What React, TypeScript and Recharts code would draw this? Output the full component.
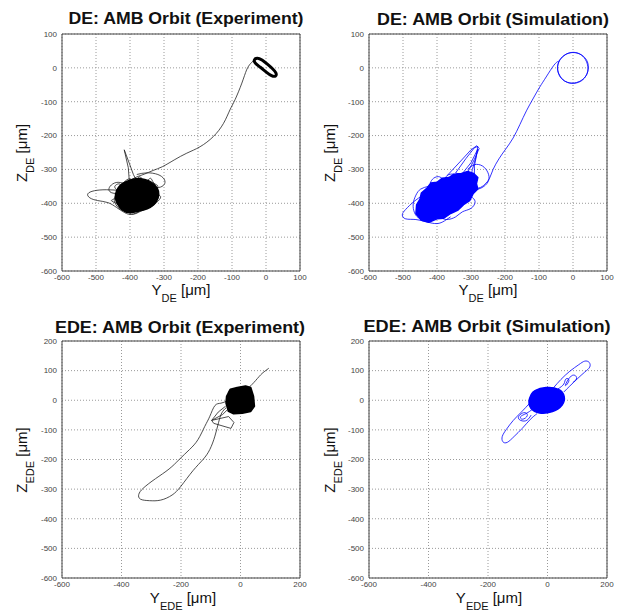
import React from 'react';
import { ScatterChart, Scatter, XAxis, YAxis, CartesianGrid, ReferenceArea } from 'recharts';

type Pt = [number, number];

// ---------- ticks ----------
const deTicks = [-600, -500, -400, -300, -200, -100, 0, 100];
const edeTicksX = [-600, -400, -200, 0, 200];
const edeTicksY = [-600, -500, -400, -300, -200, -100, 0, 100, 200];

// ---------- DE experiment ----------
const deExpRing: Pt[] = [[-36, 24], [-26, 31], [-12, 24], [4, 11], [20, -3], [31, -15], [30, -26], [17, -25], [0, -12], [-18, 3], [-34, 15]];
const deExpPath: Pt[] = [[-38, 20], [-46, 12], [-57, -6], [-71, -45], [-91, -94], [-106, -124], [-125, -164], [-155, -203], [-194, -233], [-233, -252], [-270, -272], [-305, -292], [-332, -303], [-358, -314], [-380, -322], [-395, -330]];
const deExpLoopRight: Pt[] = [[-380, -315], [-350, -310], [-318, -315], [-300, -328], [-298, -342], [-310, -352], [-332, -353], [-355, -345]];
const deExpSpike: Pt[] = [[-402, -335], [-405, -295], [-417, -242], [-402, -282], [-390, -315], [-380, -335]];
const deExpLoopLeft: Pt[] = [[-430, -362], [-470, -360], [-505, -363], [-524, -372], [-518, -384], [-495, -392], [-465, -398], [-440, -412], [-415, -428], [-395, -433], [-375, -425]];
const deExpLoopUL: Pt[] = [[-410, -345], [-435, -338], [-455, -346], [-462, -360], [-450, -370], [-430, -368], [-445, -352], [-428, -345], [-440, -380], [-455, -392], [-440, -400]];
const deExpScribble: Pt[] = [[-420, -340], [-400, -328], [-385, -338], [-372, -322], [-355, -335], [-340, -326], [-330, -340], [-318, -350], [-325, -368], [-310, -380], [-322, -398], [-338, -410], [-362, -420], [-390, -432], [-412, -424], [-432, -415], [-446, -392], [-438, -370]];
const deExpBlob: Pt[] = [[-445, -382], [-440, -362], [-430, -346], [-412, -336], [-392, -328], [-368, -326], [-345, -332], [-326, -345], [-314, -364], [-316, -386], [-328, -404], [-348, -417], [-376, -424], [-403, -430], [-424, -421], [-438, -402]];

// ---------- DE simulation ----------
const deSimCircle: Pt[] = [[47, 2], [42, 23], [27, 39], [4, 47], [-19, 43], [-37, 29], [-47, 8], [-45, -15], [-35, -33], [-16, -45], [6, -47], [27, -39], [41, -22]];
const deSimCircle2: Pt[] = [[45, -2], [41, 20], [25, 41], [2, 48], [-21, 42], [-39, 26], [-47, 4], [-43, -18], [-31, -36], [-12, -46], [10, -45], [31, -35], [43, -17]];
const deSimPath: Pt[] = [[-42, 20], [-56, 8], [-79, -27], [-98, -57], [-118, -92], [-137, -127], [-156, -167], [-176, -207], [-198, -240], [-218, -269], [-235, -300], [-245, -325], [-258, -343], [-278, -355], [-300, -350], [-312, -335]];
const deSimLoop: Pt[] = [[-310, -300], [-290, -286], [-266, -290], [-250, -310], [-248, -332], [-262, -350], [-285, -358], [-305, -345]];
const deSimFan: Pt[] = [[-370, -318], [-330, -275], [-300, -242], [-283, -230], [-276, -238], [-290, -270], [-305, -300], [-318, -320], [-345, -310], [-315, -268], [-290, -236], [-280, -232], [-285, -262], [-296, -300], [-300, -320], [-330, -318], [-300, -280], [-280, -240], [-290, -290], [-290, -325]];
const deSimBlob: Pt[] = [[-462, -430], [-460, -405], [-450, -388], [-446, -370], [-430, -356], [-418, -340], [-400, -338], [-385, -326], [-365, -324], [-350, -314], [-328, -312], [-310, -306], [-292, -312], [-280, -324], [-284, -342], [-280, -358], [-294, -372], [-304, -392], [-322, -404], [-338, -420], [-360, -430], [-380, -444], [-400, -446], [-424, -456], [-446, -450]];
const deSimLoopsA: Pt[] = [[-440, -375], [-468, -395], [-492, -418], [-502, -434], [-492, -446], [-462, -448], [-430, -455], [-400, -460], [-378, -452], [-360, -440]];
const deSimLoopsB: Pt[] = [[-425, -350], [-448, -358], [-462, -376], [-470, -402], [-466, -428], [-450, -445], [-420, -447]];
const deSimLoopsC: Pt[] = [[-420, -340], [-410, -326], [-392, -322], [-380, -330], [-370, -318], [-352, -314], [-340, -320]];
const deSimLoopsD: Pt[] = [[-300, -380], [-288, -395], [-300, -415], [-325, -425], [-345, -440], [-372, -448], [-390, -440]];

// ---------- EDE experiment ----------
const edeExpBlob: Pt[] = [[-40, 25], [-34, 36], [-11, 42], [17, 47], [34, 42], [43, 13], [46, -20], [34, -37], [6, -43], [-23, -45], [-40, -37], [-48, -9], [-46, 13]];
const edeExpTail: Pt[] = [[25, 40], [45, 60], [68, 86], [82, 98], [95, 108]];
const edeExpTeardrop: Pt[] = [[-45, -2], [-66, -10], [-86, -18], [-103, -54], [-120, -88], [-143, -133], [-171, -166], [-206, -200], [-240, -232], [-286, -265], [-326, -296], [-342, -318], [-336, -334], [-306, -339], [-268, -337], [-230, -320], [-200, -290], [-160, -238], [-126, -200], [-103, -166], [-86, -121], [-74, -76], [-63, -43], [-48, -25]];
const edeExpBox: Pt[] = [[-42, -30], [-60, -48], [-97, -68], [-40, -55], [-22, -75], [-32, -95], [-90, -78], [-97, -68], [-75, -40], [-50, -20]];

// ---------- EDE simulation ----------
const edeSimBlob: Pt[] = [[-48, 32], [-6, 46], [42, 40], [60, 14], [54, -17], [19, -41], [-30, -47], [-60, -28], [-65, -3], [-54, 21]];
const edeSimLoopUR: Pt[] = [[20, 42], [45, 70], [75, 98], [105, 120], [125, 132], [140, 128], [142, 112], [125, 95], [100, 72], [75, 48], [55, 28]];
const edeSimLoopUR2: Pt[] = [[35, 38], [55, 55], [62, 72], [72, 66], [60, 50], [80, 82], [98, 76], [85, 60]];
const edeSimLoopLL: Pt[] = [[-60, -10], [-88, -40], [-115, -68], [-138, -98], [-152, -122], [-150, -140], [-135, -142], [-112, -122], [-85, -95], [-58, -65], [-35, -45]];
const edeSimLoopLL2: Pt[] = [[-50, -30], [-72, -45], [-90, -55], [-84, -64], [-68, -52], [-80, -42], [-98, -60], [-75, -70], [-55, -50]];

type Series = { pts: Pt[]; color: string; w: number; fill?: string; curve: any };

const BLK = '#222';
const BLU = '#0000ff';

const panels: {
  left: number; top: number; yW: number; mR: number;
  xDom: [number, number]; xT: number[]; yDom: [number, number]; yT: number[];
  series: Series[];
}[] = [
  {
    left: 0, top: 0, yW: 62, mR: 14, xDom: [-600, 100], xT: deTicks, yDom: [-600, 100], yT: deTicks,
    series: [
      { pts: deExpPath, color: BLK, w: 0.8, curve: 'natural' },
      { pts: deExpLoopRight, color: BLK, w: 0.8, curve: 'natural' },
      { pts: deExpSpike, color: BLK, w: 0.8, curve: 'linear' },
      { pts: deExpLoopLeft, color: BLK, w: 0.8, curve: 'natural' },
      { pts: deExpLoopUL, color: BLK, w: 0.8, curve: 'natural' },
      { pts: deExpScribble, color: BLK, w: 0.8, curve: 'natural' },
      { pts: deExpBlob, color: '#000', w: 1.5, fill: '#000', curve: 'basisClosed' },
      { pts: deExpRing, color: '#000', w: 3, curve: 'basisClosed' },
    ],
  },
  {
    left: 314, top: 0, yW: 55, mR: 21, xDom: [-600, 100], xT: deTicks, yDom: [-600, 100], yT: deTicks,
    series: [
      { pts: deSimCircle, color: BLU, w: 0.8, curve: 'basisClosed' },
      { pts: deSimCircle2, color: BLU, w: 0.8, curve: 'basisClosed' },
      { pts: deSimPath, color: BLU, w: 0.8, curve: 'natural' },
      { pts: deSimLoop, color: BLU, w: 0.8, curve: 'natural' },
      { pts: deSimFan, color: BLU, w: 0.8, curve: 'linear' },
      { pts: deSimLoopsA, color: BLU, w: 0.8, curve: 'natural' },
      { pts: deSimLoopsB, color: BLU, w: 0.8, curve: 'natural' },
      { pts: deSimLoopsC, color: BLU, w: 0.8, curve: 'natural' },
      { pts: deSimLoopsD, color: BLU, w: 0.8, curve: 'natural' },
      { pts: deSimBlob, color: BLU, w: 1.5, fill: BLU, curve: 'linearClosed' },
    ],
  },
  {
    left: 0, top: 307, yW: 62, mR: 14, xDom: [-600, 200], xT: edeTicksX, yDom: [-600, 200], yT: edeTicksY,
    series: [
      { pts: edeExpTail, color: BLK, w: 0.8, curve: 'natural' },
      { pts: edeExpTeardrop, color: BLK, w: 0.8, curve: 'natural' },
      { pts: edeExpBox, color: BLK, w: 0.8, curve: 'linear' },
      { pts: edeExpBlob, color: '#000', w: 2, fill: '#000', curve: 'linearClosed' },
    ],
  },
  {
    left: 314, top: 307, yW: 55, mR: 21, xDom: [-600, 200], xT: edeTicksX, yDom: [-600, 200], yT: edeTicksY,
    series: [
      { pts: edeSimLoopUR, color: BLU, w: 0.8, curve: 'natural' },
      { pts: edeSimLoopUR2, color: BLU, w: 0.8, curve: 'natural' },
      { pts: edeSimLoopLL, color: BLU, w: 0.8, curve: 'natural' },
      { pts: edeSimLoopLL2, color: BLU, w: 0.8, curve: 'natural' },
      { pts: edeSimBlob, color: BLU, w: 1.5, fill: BLU, curve: 'basisClosed' },
    ],
  },
];

const FONT = '"Liberation Sans", Arial, sans-serif';
const tickStyle = { fontSize: 8, fill: '#444', fontFamily: FONT };
const noShape = () => <g />;

function Panel(p: typeof panels[number]) {
  return (
    <div style={{ position: 'absolute', left: p.left, top: p.top, width: 314, height: 307 }}>
      <ScatterChart width={314} height={307} margin={{ top: 34, right: p.mR, bottom: 0, left: 0 }}>
        <CartesianGrid stroke="#9a9a9a" strokeDasharray="1 2" />
        <XAxis dataKey="x" type="number" domain={p.xDom} ticks={p.xT} height={36}
          axisLine={false} tickLine={false} tickSize={0} tickMargin={3} tick={tickStyle} interval={0} />
        <YAxis dataKey="y" type="number" domain={p.yDom} ticks={p.yT} width={p.yW}
          axisLine={false} tickLine={false} tickSize={0} tickMargin={5} tick={tickStyle} interval={0} />
        {p.series.map((s, i) => (
          <Scatter key={i} data={s.pts.map(([x, y]) => ({ x, y }))} isAnimationActive={false}
            fill={s.color} shape={noShape} lineJointType={s.curve}
            line={{ stroke: s.color, strokeWidth: s.w, fill: s.fill ?? 'none', strokeLinejoin: 'round' }} />
        ))}
        <ReferenceArea x1={p.xDom[0]} x2={p.xDom[1]} y1={p.yDom[0]} y2={p.yDom[1]}
          fill="none" fillOpacity={0} stroke="#444" strokeWidth={1} ifOverflow="visible" />
      </ScatterChart>
    </div>
  );
}

function AxLabel({ x, y, main, sub, rot }: { x: number; y: number; main: string; sub: string; rot?: boolean }) {
  return (
    <text transform={`translate(${x},${y})${rot ? ' rotate(-90)' : ''}`} textAnchor="middle"
      fontFamily={FONT} fontSize={15} fill="#111">
      {main}
      <tspan fontSize={11} dy={7}>{sub}</tspan>
      <tspan dy={-7}> [μm]</tspan>
    </text>
  );
}

function Title({ x, y, text, len }: { x: number; y: number; text: string; len: number }) {
  return (
    <text x={x} y={y} textAnchor="middle" fontFamily={FONT} fontWeight="bold" fontSize={16}
      fill="#111" textLength={len} lengthAdjust="spacingAndGlyphs">{text}</text>
  );
}

export default function App() {
  return (
    <div style={{ position: 'absolute', left: 0, top: 0, width: 628, height: 614, background: '#fff' }}>
      {panels.map((p, i) => <Panel key={i} {...p} />)}
      <svg width={628} height={614} style={{ position: 'absolute', left: 0, top: 0, pointerEvents: 'none' }}>
        <Title x={186} y={24} text="DE: AMB Orbit (Experiment)" len={235} />
        <Title x={493} y={25} text="DE: AMB Orbit (Simulation)" len={232} />
        <Title x={180} y={333} text="EDE: AMB Orbit (Experiment)" len={250} />
        <Title x={487} y={332} text="EDE: AMB Orbit (Simulation)" len={247} />
        <AxLabel x={181} y={295} main="Y" sub="DE" />
        <AxLabel x={488} y={295} main="Y" sub="DE" />
        <AxLabel x={183} y={603} main="Y" sub="EDE" />
        <AxLabel x={489} y={603} main="Y" sub="EDE" />
        <AxLabel x={27} y={153} main="Z" sub="DE" rot />
        <AxLabel x={335} y={153} main="Z" sub="DE" rot />
        <AxLabel x={27} y={460} main="Z" sub="EDE" rot />
        <AxLabel x={335} y={460} main="Z" sub="EDE" rot />
      </svg>
    </div>
  );
}
